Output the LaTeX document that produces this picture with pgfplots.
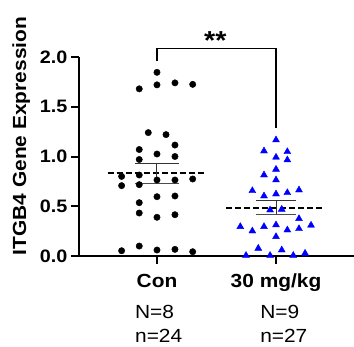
\documentclass[border=0pt]{standalone}
\usepackage{fontspec}
\setmainfont{Liberation Sans}[FakeStretch=1.1]
\usepackage{pgfplots}
\pgfplotsset{compat=1.18}
\pgfplotstableread{
x y
1.000 1.846
0.851 1.680
1.000 1.720
1.151 1.740
1.300 1.725
0.927 1.240
1.076 1.220
0.851 1.070
1.000 1.025
1.151 1.115
0.851 0.970
1.151 1.000
0.703 0.800
0.703 0.707
0.851 0.814
0.851 0.717
1.000 0.764
1.151 0.764
1.300 0.774
0.851 0.536
1.000 0.596
1.151 0.603
0.851 0.432
1.000 0.389
1.151 0.415
0.703 0.053
0.851 0.100
1.000 0.060
1.151 0.067
1.300 0.043
}\con
\pgfplotstableread{
x y
2.000 1.166
1.899 1.055
2.095 1.048
2.000 0.992
2.095 0.965
2.000 0.871
1.899 0.814
2.000 0.764
1.801 0.656
1.899 0.603
2.000 0.623
2.095 0.636
2.193 0.663
1.950 0.462
2.048 0.469
2.193 0.375
1.700 0.295
1.801 0.251
1.899 0.295
2.000 0.312
2.095 0.261
2.193 0.274
2.294 0.309
2.000 0.194
1.851 0.077
2.048 0.060
2.244 0.027
1.748 0.005
1.950 0.005
2.145 0.005
}\dose
\begin{document}
\begin{tikzpicture}
\begin{axis}[
 at={(79pt,90pt)}, anchor=south west,
 scale only axis, width=275pt, height=199pt,
 xmin=0.345, xmax=2.655, ymin=0, ymax=2,
 axis x line=bottom, axis y line=left,
 axis line style={-, line width=2pt},
 clip=false,
 xtick={1,2}, xticklabels={Con, 30 mg/kg},
 ytick={0,0.5,1,1.5,2},
 tick align=outside, major tick length=8pt,
 tick style={line width=2pt, black},
 yticklabel style={font=\fontsize{18}{21}\selectfont\bfseries,
   /pgf/number format/assume math mode=true,
   /pgf/number format/fixed, /pgf/number format/fixed zerofill,
   /pgf/number format/precision=1},
 xticklabel style={font=\fontsize{19}{22}\selectfont\bfseries,
   anchor=base, inner sep=0pt, yshift=-23pt},
 ylabel={ITGB4 Gene Expression},
 ylabel style={font=\fontsize{19}{22}\selectfont\bfseries,
   at={(axis description cs:-0.1927,0.603)}, anchor=base},
]
% means (dashed) and SEM
\addplot[black, line width=2pt, dash pattern=on 6pt off 3pt] coordinates {(0.586,0.831) (1.403,0.831)};
\addplot[black, line width=2pt, dash pattern=on 6pt off 3pt] coordinates {(1.580,0.486) (2.398,0.486)};
\addplot[black!80, line width=1pt] coordinates {(0.815,0.931) (1.185,0.931)};
\addplot[black!70, line width=1pt] coordinates {(0.815,0.730) (1.185,0.730)};
\addplot[black!80, line width=1pt] coordinates {(1,0.730) (1,0.931)};
\addplot[black!80, line width=1pt] coordinates {(1.832,0.553) (2.168,0.553)};
\addplot[black!70, line width=1pt] coordinates {(1.832,0.422) (2.168,0.422)};
\addplot[black!80, line width=1pt] coordinates {(2,0.422) (2,0.553)};
% points
\addplot[only marks, mark=*, mark size=3.2pt, black] table[x=x,y=y] {\con};
\addplot[only marks, mark=triangle*, mark size=4pt, color={rgb,255:red,0;green,0;blue,255}] table[x=x,y=y] {\dose};
% significance bracket
\addplot[black, line width=1.5pt] coordinates {(1,1.96) (1,2.083) (2,2.083) (2,1.286)};
\node[font=\fontsize{26}{30}\selectfont\bfseries] at (axis cs:1.49,2.17) {**};
% group sizes
\node[anchor=base west, inner sep=0pt, font=\fontsize{19}{22}\selectfont] at (axis cs:0.815,-0.628) {N=8};
\node[anchor=base west, inner sep=0pt, font=\fontsize{19}{22}\selectfont] at (axis cs:0.815,-0.870) {n=24};
\node[anchor=base west, inner sep=0pt, font=\fontsize{19}{22}\selectfont] at (axis cs:1.866,-0.628) {N=9};
\node[anchor=base west, inner sep=0pt, font=\fontsize{19}{22}\selectfont] at (axis cs:1.866,-0.870) {n=27};
\end{axis}
\pgfresetboundingbox
\path[use as bounding box] (0,0) rectangle (354pt,346pt);
\end{tikzpicture}
\end{document}
